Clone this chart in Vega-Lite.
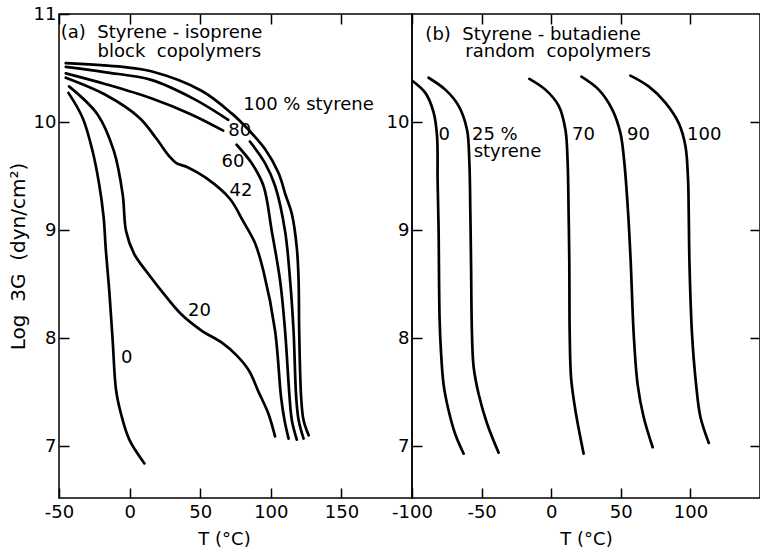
{
  "$schema": "https://vega.github.io/schema/vega-lite/v6.json",
  "padding": {"left": 7, "top": 4, "right": 0, "bottom": 0},
  "background": "white",
  "spacing": 0,
  "bounds": "flush",
  "config": {
    "view": {"stroke": "black", "strokeWidth": 1.5},
    "font": "DejaVu Sans",
    "axis": {"domain": false, "grid": false, "tickColor": "black", "tickSize": -10, "tickWidth": 1.5, "labelPadding": 15, "labelFont": "DejaVu Sans", "labelFontSize": 18, "labelColor": "black", "labelFlush": false, "labelOverlap": false, "titleFont": "DejaVu Sans", "titleFontSize": 18, "titleFontWeight": "normal", "titleColor": "black", "titlePadding": 9, "labelExpr": "replace(datum.label, '−', '-')"},
    "axisY": {"labelPadding": 13, "titlePadding": 5, "titleFontSize": 20},
    "text": {"font": "DejaVu Sans", "fontSize": 18, "color": "black"}
  },
  "datasets": {
    "A": [
      {"s":"0","T":-43.3,"G":10.27},{"s":"0","T":-33.3,"G":10.04},{"s":"0","T":-26.2,"G":9.73},{"s":"0","T":-21.5,"G":9.42},{"s":"0","T":-18.4,"G":9.12},{"s":"0","T":-16.8,"G":8.81},{"s":"0","T":-14.4,"G":8.44},{"s":"0","T":-12.0,"G":7.98},{"s":"0","T":-9.6,"G":7.52},{"s":"0","T":-6.1,"G":7.30},{"s":"0","T":-0.2,"G":7.06},{"s":"0","T":10.5,"G":6.84},
      {"s":"20","T":-42.9,"G":10.33},{"s":"20","T":-22.7,"G":10.07},{"s":"20","T":-11.1,"G":9.73},{"s":"20","T":-4.9,"G":9.33},{"s":"20","T":-2.5,"G":8.99},{"s":"20","T":3.2,"G":8.78},{"s":"20","T":12.9,"G":8.60},{"s":"20","T":22.4,"G":8.44},{"s":"20","T":36.6,"G":8.22},{"s":"20","T":50.9,"G":8.07},{"s":"20","T":65.1,"G":7.96},{"s":"20","T":75.8,"G":7.84},{"s":"20","T":84.5,"G":7.70},{"s":"20","T":91.4,"G":7.50},{"s":"20","T":98.3,"G":7.30},{"s":"20","T":103.0,"G":7.09},
      {"s":"42","T":-45.2,"G":10.41},{"s":"42","T":-16.8,"G":10.25},{"s":"42","T":6.9,"G":10.04},{"s":"42","T":18.8,"G":9.85},{"s":"42","T":28.3,"G":9.68},{"s":"42","T":33.1,"G":9.62},{"s":"42","T":41.4,"G":9.58},{"s":"42","T":54.4,"G":9.48},{"s":"42","T":71.0,"G":9.29},{"s":"42","T":80.5,"G":9.08},{"s":"42","T":88.8,"G":8.88},{"s":"42","T":94.8,"G":8.62},{"s":"42","T":103.0,"G":8.07},{"s":"42","T":107.3,"G":7.45},{"s":"42","T":109.7,"G":7.24},{"s":"42","T":112.6,"G":7.07},
      {"s":"60a","T":-45.2,"G":10.45},{"s":"60a","T":-16.8,"G":10.35},{"s":"60a","T":15.3,"G":10.22},{"s":"60a","T":43.7,"G":10.07},{"s":"60a","T":66.3,"G":9.92},
      {"s":"60b","T":75.8,"G":9.79},{"s":"60b","T":86.4,"G":9.62},{"s":"60b","T":94.8,"G":9.41},{"s":"60b","T":100.7,"G":8.99},{"s":"60b","T":106.6,"G":8.53},{"s":"60b","T":110.1,"G":8.07},{"s":"60b","T":113.3,"G":7.45},{"s":"60b","T":114.9,"G":7.24},{"s":"60b","T":118.4,"G":7.06},
      {"s":"80a","T":-45.2,"G":10.51},{"s":"80a","T":-16.8,"G":10.46},{"s":"80a","T":15.3,"G":10.39},{"s":"80a","T":46.1,"G":10.21},{"s":"80a","T":69.9,"G":10.02},
      {"s":"80b","T":85.2,"G":9.82},{"s":"80b","T":95.9,"G":9.62},{"s":"80b","T":103.0,"G":9.41},{"s":"80b","T":110.1,"G":8.99},{"s":"80b","T":113.7,"G":8.53},{"s":"80b","T":116.1,"G":8.07},{"s":"80b","T":118.0,"G":7.45},{"s":"80b","T":119.7,"G":7.24},{"s":"80b","T":123.2,"G":7.07},
      {"s":"100","T":-45.2,"G":10.545},{"s":"100","T":-4.9,"G":10.51},{"s":"100","T":15.3,"G":10.47},{"s":"100","T":50.9,"G":10.29},{"s":"100","T":72.3,"G":10.08},{"s":"100","T":84.1,"G":9.93},{"s":"100","T":95.9,"G":9.75},{"s":"100","T":105.4,"G":9.53},{"s":"100","T":110.6,"G":9.32},{"s":"100","T":114.9,"G":9.15},{"s":"100","T":118.4,"G":8.84},{"s":"100","T":119.7,"G":8.53},{"s":"100","T":120.1,"G":8.07},{"s":"100","T":121.5,"G":7.45},{"s":"100","T":123.2,"G":7.24},{"s":"100","T":126.8,"G":7.10}
    ],
    "B": [
      {"s":"0","T":-99.6,"G":10.38},{"s":"0","T":-90.4,"G":10.27},{"s":"0","T":-84.5,"G":10.09},{"s":"0","T":-82.0,"G":9.87},{"s":"0","T":-81.6,"G":9.47},{"s":"0","T":-80.9,"G":9.01},{"s":"0","T":-80.2,"G":8.19},{"s":"0","T":-79.2,"G":7.88},{"s":"0","T":-77.3,"G":7.57},{"s":"0","T":-73.7,"G":7.33},{"s":"0","T":-68.9,"G":7.11},{"s":"0","T":-62.9,"G":6.93},
      {"s":"25","T":-88.1,"G":10.41},{"s":"25","T":-76.1,"G":10.30},{"s":"25","T":-66.5,"G":10.15},{"s":"25","T":-60.5,"G":9.93},{"s":"25","T":-58.8,"G":9.63},{"s":"25","T":-58.1,"G":9.17},{"s":"25","T":-57.6,"G":8.71},{"s":"25","T":-56.9,"G":8.03},{"s":"25","T":-55.7,"G":7.73},{"s":"25","T":-52.1,"G":7.48},{"s":"25","T":-46.1,"G":7.21},{"s":"25","T":-37.8,"G":6.94},
      {"s":"70","T":-15.7,"G":10.40},{"s":"70","T":-4.2,"G":10.30},{"s":"70","T":5.4,"G":10.15},{"s":"70","T":10.2,"G":9.93},{"s":"70","T":11.8,"G":9.63},{"s":"70","T":12.5,"G":9.17},{"s":"70","T":13.0,"G":8.71},{"s":"70","T":13.3,"G":8.03},{"s":"70","T":14.3,"G":7.63},{"s":"70","T":17.4,"G":7.33},{"s":"70","T":23.3,"G":6.93},
      {"s":"90","T":21.7,"G":10.42},{"s":"90","T":34.1,"G":10.30},{"s":"90","T":43.7,"G":10.12},{"s":"90","T":49.7,"G":9.90},{"s":"90","T":52.5,"G":9.63},{"s":"90","T":55.2,"G":9.17},{"s":"90","T":57.1,"G":8.71},{"s":"90","T":59.3,"G":8.03},{"s":"90","T":62.1,"G":7.57},{"s":"90","T":66.4,"G":7.27},{"s":"90","T":72.9,"G":6.99},
      {"s":"100","T":56.9,"G":10.43},{"s":"100","T":70.0,"G":10.33},{"s":"100","T":82.0,"G":10.18},{"s":"100","T":91.6,"G":9.99},{"s":"100","T":96.4,"G":9.78},{"s":"100","T":98.3,"G":9.47},{"s":"100","T":98.8,"G":9.17},{"s":"100","T":99.3,"G":8.71},{"s":"100","T":101.2,"G":8.03},{"s":"100","T":104.1,"G":7.57},{"s":"100","T":107.2,"G":7.27},{"s":"100","T":113.2,"G":7.03}
    ],
    "LA": [
      {"t":"(a)\u00a0\u00a0Styrene\u00a0-\u00a0isoprene","T":-48.8,"G":10.82},
      {"t":"block\u00a0\u00a0copolymers","T":-22.7,"G":10.65},
      {"t":"100 % styrene","T":80.5,"G":10.16},
      {"t":"80","T":69.9,"G":9.92},
      {"t":"60","T":65.1,"G":9.63},
      {"t":"42","T":70.8,"G":9.36},
      {"t":"20","T":41.4,"G":8.25},
      {"t":"0","T":-6.1,"G":7.82}
    ],
    "LB": [
      {"t":"(b)\u00a0\u00a0Styrene\u00a0-\u00a0butadiene","T":-90.4,"G":10.81},
      {"t":"random\u00a0\u00a0copolymers","T":-61.7,"G":10.65},
      {"t":"0","T":-80.9,"G":9.88},
      {"t":"25 %","T":-56.9,"G":9.88},
      {"t":"styrene","T":-55.7,"G":9.72},
      {"t":"70","T":15.0,"G":9.88},
      {"t":"90","T":54.5,"G":9.88},
      {"t":"100","T":97.6,"G":9.88}
    ]
  },
  "hconcat": [
    {
      "width": 353,
      "height": 484,
      "layer": [
        {
          "data": {"name": "A"},
          "mark": {"type": "line", "color": "black", "strokeWidth": 2.7, "interpolate": "catmull-rom", "strokeCap": "round", "clip": true},
          "encoding": {
            "x": {"field": "T", "type": "quantitative", "scale": {"domain": [-50, 200], "nice": false, "zero": false}, "axis": {"orient": "bottom", "values": [-50, 0, 50, 100, 150], "title": "T (°C)", "titleX": 165}},
            "y": {"field": "G", "type": "quantitative", "scale": {"domain": [6.52, 11], "nice": false, "zero": false}, "axis": {"orient": "left", "values": [7, 8, 9, 10, 11], "title": "Log\u00a0\u00a03G\u00a0\u00a0(dyn/cm²)"}},
            "detail": {"field": "s"}
          }
        },
        {
          "data": {"name": "LA"},
          "mark": {"type": "text", "align": "left", "baseline": "middle"},
          "encoding": {
            "x": {"field": "T", "type": "quantitative", "scale": {"domain": [-50, 200], "nice": false, "zero": false}, "axis": {"orient": "top", "values": [-50, 0, 50, 100, 150], "labels": false, "title": null}},
            "y": {"field": "G", "type": "quantitative", "scale": {"domain": [6.52, 11], "nice": false, "zero": false}, "axis": null},
            "text": {"field": "t"}
          }
        }
      ],
      "resolve": {"axis": {"x": "independent", "y": "independent"}}
    },
    {
      "width": 348,
      "height": 484,
      "layer": [
        {
          "data": {"name": "B"},
          "mark": {"type": "line", "color": "black", "strokeWidth": 2.7, "interpolate": "catmull-rom", "strokeCap": "round", "clip": true},
          "encoding": {
            "x": {"field": "T", "type": "quantitative", "scale": {"domain": [-100, 150], "nice": false, "zero": false}, "axis": {"orient": "bottom", "values": [-100, -50, 0, 50, 100], "title": "T (°C)"}},
            "y": {"field": "G", "type": "quantitative", "scale": {"domain": [6.52, 11], "nice": false, "zero": false}, "axis": {"orient": "left", "values": [7, 8, 9, 10], "title": null}},
            "detail": {"field": "s"}
          }
        },
        {
          "data": {"name": "LB"},
          "mark": {"type": "text", "align": "left", "baseline": "middle"},
          "encoding": {
            "x": {"field": "T", "type": "quantitative", "scale": {"domain": [-100, 150], "nice": false, "zero": false}, "axis": {"orient": "top", "values": [-100, -50, 0, 50, 100], "labels": false, "title": null}},
            "y": {"field": "G", "type": "quantitative", "scale": {"domain": [6.52, 11], "nice": false, "zero": false}, "axis": {"orient": "right", "values": [7, 8, 9, 10], "labels": false, "title": null}},
            "text": {"field": "t"}
          }
        }
      ],
      "resolve": {"axis": {"x": "independent", "y": "independent"}}
    }
  ]
}
